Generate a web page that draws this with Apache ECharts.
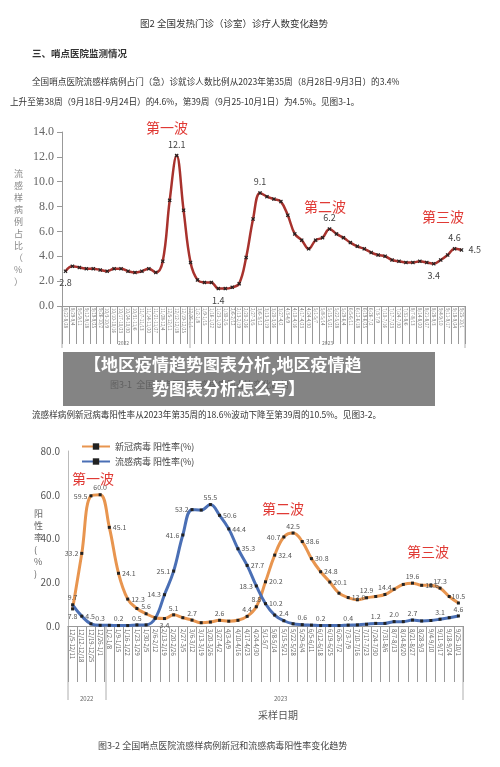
<!DOCTYPE html>
<html><head><meta charset="utf-8">
<script src="https://cdn.jsdelivr.net/npm/echarts@6/dist/echarts.min.js"></script>
<style>html,body{margin:0;padding:0;background:#fff}#c{width:500px;height:767px}</style>
</head><body><div id="c"></div>
<script>
var fluWeeks=["8/22-8/28","8/29-9/4","9/5-9/11","9/12-9/18","9/19-9/25","9/26-10/2","10/3-10/9","10/10-10/16","10/17-10/23","10/24-10/30","10/31-11/6","11/7-11/13","11/14-11/20","11/21-11/27","11/28-12/4","12/5-12/11","12/12-12/18","12/19-12/25","12/26-1/1",
"1/2-1/8","1/9-1/15","1/16-1/22","1/23-1/29","1/30-2/5","2/6-2/12","2/13-2/19","2/20-2/26","2/27-3/5","3/6-3/12","3/13-3/19","3/20-3/26","3/27-4/2","4/3-4/9","4/10-4/16","4/17-4/23","4/24-4/30","5/1-5/7","5/8-5/14","5/15-5/21","5/22-5/28","5/29-6/4","6/5-6/11","6/12-6/18","6/19-6/25","6/26-7/2","7/3-7/9","7/10-7/16","7/17-7/23","7/24-7/30","7/31-8/6","8/7-8/13","8/14-8/20","8/21-8/27","8/28-9/3","9/4-9/10","9/11-9/17","9/18-9/24","9/25-10/1"];
var fluPct=[2.8,3.2,3.1,3.0,3.0,2.9,2.8,3.0,3.0,2.8,2.7,2.8,3.0,2.7,3.6,8.5,12.1,7.7,3.5,
2.1,1.9,1.9,1.4,1.4,1.5,1.8,3.9,7.0,9.1,8.8,8.6,8.4,7.3,5.8,5.3,4.6,5.3,5.5,6.2,5.8,5.5,5.1,4.8,4.6,4.3,4.1,4.0,3.7,3.6,3.5,3.5,3.6,3.5,3.4,3.7,4.1,4.6,4.5];
var fluLabelIdx={0:'bottom',16:'top',22:'bottom',28:'top',38:'top',53:'bottom',56:'top',57:'right'};
var posWeeks=["12/5-12/11","12/12-12/18","12/19-12/25","12/26-1/1",
"1/2-1/8","1/9-1/15","1/16-1/22","1/23-1/29","1/30-2/5","2/6-2/12","2/13-2/19","2/20-2/26","2/27-3/5","3/6-3/12","3/13-3/19","3/20-3/26","3/27-4/2","4/3-4/9","4/10-4/16","4/17-4/23","4/24-4/30","5/1-5/7","5/8-5/14","5/15-5/21","5/22-5/28","5/29-6/4","6/5-6/11","6/12-6/18","6/19-6/25","6/26-7/2","7/3-7/9","7/10-7/16","7/17-7/23","7/24-7/30","7/31-8/6","8/7-8/13","8/14-8/20","8/21-8/27","8/28-9/3","9/4-9/10","9/11-9/17","9/18-9/24","9/25-10/1"];
var covidPos=[7.8,33.2,59.5,60.0,45.1,24.1,12.3,8.0,5.6,3.8,3.4,5.1,3.8,2.7,1.5,1.8,2.6,2.2,2.6,4.4,8.8,20.2,32.4,40.7,42.5,38.6,30.8,24.8,20.1,15.0,13.0,12.0,12.9,13.5,14.4,16.8,19.0,19.6,18.6,18.6,17.3,13.5,10.5];
var fluPos=[9.7,4.5,1.0,0.3,0.3,0.2,0.2,0.5,0.5,3.5,14.3,25.1,41.6,53.2,53.0,55.5,50.6,44.4,35.3,27.7,18.3,10.2,5.0,2.4,1.0,0.6,0.4,0.2,0.2,0.2,0.4,0.5,0.8,1.2,1.2,2.0,2.0,2.7,2.3,2.5,3.1,3.8,4.6];
var covidLabelIdx={0:'bottom',1:'left',2:'left',3:'top',4:'right',5:'right',6:'right',8:'top',10:'bottom',11:'top',13:'top',16:'top',19:'top',20:'top',21:'right',22:'right',23:'left',24:'top',25:'right',26:'right',27:'right',28:'right',30:'right',32:'top',34:'top',37:'top',38:'right',40:'top',42:'top'};
var fluPosLabelIdx={0:'top',1:'right',3:'top',5:'top',7:'top',10:'left',11:'left',12:'left',13:'left',15:'top',16:'right',17:'right',18:'right',19:'right',20:'left',21:'right',23:'top',25:'top',27:'top',30:'top',33:'top',35:'top',37:'top',40:'top',42:'top'};

var chart=echarts.init(document.getElementById('c'));
var X='path://M0,2L2,0L5,3L8,0L10,2L7,5L10,8L8,10L5,7L2,10L0,8L3,5Z';
function items(vals,map){return vals.map(function(v,i){var o={value:v};if(map[i]){o.label={position:map[i]};}return o;});}
var red='#e03a35';
function t(x,y,s,size,opt,z){return {type:'text',left:x,top:y,z:z||10,style:Object.assign({text:s,fontSize:size,fill:'#333',fontFamily:'Noto Sans CJK SC'},opt||{})};}
function line(x1,y1,x2,y2){return {type:'line',z:5,shape:{x1:x1,y1:y1,x2:x2,y2:y2},style:{stroke:'#999',lineWidth:0.8}};}
chart.setOption({
 animation:false,
 textStyle:{fontFamily:'Noto Sans CJK SC'},
 legend:{data:['新冠病毒 阳性率(%)','流感病毒 阳性率(%)'],orient:'vertical',left:76,top:437,itemGap:6,itemWidth:28,itemHeight:8,textStyle:{fontSize:9,color:'#444'}},
 grid:[{left:62,right:35,top:132,bottom:461},{left:68,right:37,top:451,bottom:141}],
 xAxis:[{type:'category',gridIndex:0,data:fluWeeks,axisTick:{show:true,length:38,lineStyle:{color:'#999'}},axisLine:{lineStyle:{color:'#999'}},axisLabel:{rotate:-90,fontSize:4.5,color:'#777',interval:0,margin:2}},
        {type:'category',gridIndex:1,data:posWeeks,axisTick:{show:true,length:56,lineStyle:{color:'#999'}},axisLine:{lineStyle:{color:'#999'}},axisLabel:{rotate:-90,fontSize:6,color:'#666',interval:0,margin:3}}],
 yAxis:[{type:'value',gridIndex:0,min:0,max:14,interval:2,splitLine:{show:false},axisLine:{show:true,lineStyle:{color:'#999'}},axisTick:{show:true,lineStyle:{color:'#999'}},axisLabel:{fontFamily:'Liberation Serif',fontSize:12,color:'#666',formatter:function(v){return v.toFixed(1);}}},
        {type:'value',gridIndex:1,min:0,max:80,interval:20,splitLine:{show:false},axisLine:{show:true,lineStyle:{color:'#bbb'}},axisLabel:{fontSize:10,color:'#555',formatter:function(v){return v.toFixed(1);}}}],
 series:[
  {type:'line',xAxisIndex:0,yAxisIndex:0,data:items(fluPct,fluLabelIdx),smooth:0.4,symbol:X,symbolSize:4,itemStyle:{color:'#222'},lineStyle:{color:'#a8322d',width:2.5},label:{show:true,fontSize:9,color:'#444',formatter:function(p){return fluLabelIdx[p.dataIndex]?p.value.toFixed(1):'';}}},
  {name:'新冠病毒 阳性率(%)',type:'line',xAxisIndex:1,yAxisIndex:1,data:items(covidPos,covidLabelIdx),smooth:0.4,symbol:'rect',symbolSize:3,itemStyle:{color:'#222'},lineStyle:{color:'#e8954f',width:3},label:{show:true,fontSize:7,color:'#555',distance:2,formatter:function(p){return covidLabelIdx[p.dataIndex]?p.value.toFixed(1):'';}}},
  {name:'流感病毒 阳性率(%)',type:'line',xAxisIndex:1,yAxisIndex:1,data:items(fluPos,fluPosLabelIdx),smooth:0.4,symbol:'rect',symbolSize:3,itemStyle:{color:'#222'},lineStyle:{color:'#4a6fb5',width:3},label:{show:true,fontSize:7,color:'#555',distance:2,formatter:function(p){return fluPosLabelIdx[p.dataIndex]?p.value.toFixed(1):'';}}}
 ],
 graphic:[
  t(140,19,'图2 全国发热门诊（诊室）诊疗人数变化趋势',9.5),
  t(32,49,'三、哨点医院监测情况',9.5,{fontWeight:'bold'}),
  t(32,77,'全国哨点医院流感样病例占门（急）诊就诊人数比例从2023年第35周（8月28日-9月3日）的3.4%',8.6),
  t(10,97,'上升至第38周（9月18日-9月24日）的4.6%，第39周（9月25-10月1日）为4.5%。见图3-1。',8.6),
  t(146,121,'第一波',14,{fill:red}),
  t(304,200,'第二波',14,{fill:red}),
  t(422,210,'第三波',14,{fill:red}),
  t(14,168,'流\n感\n样\n病\n例\n占\n比\n（\n%\n）',9,{fill:'#888',lineHeight:12}),
  line(62,306,62,348),line(190,306,190,348),line(465,306,465,348),
  t(118,341,'2022',5,{fill:'#777'}),t(322,341,'2023',5,{fill:'#777'}),
  t(110,380,'图3-1  全国哨点医院流感样病例占比变化趋势',9,{fill:'#333'}),
  {type:'rect',z:20,shape:{x:63,y:352,width:372,height:54},style:{fill:'rgba(105,105,105,0.82)'}},
  t(84,356,'【地区疫情趋势图表分析,地区疫情趋',17,{fill:'#fff',fontWeight:'bold'},30),
  t(152,380,'势图表分析怎么写】',17,{fill:'#fff',fontWeight:'bold'},30),
  t(32,410,'流感样病例新冠病毒阳性率从2023年第35周的18.6%波动下降至第39周的10.5%。见图3-2。',8.6),
  t(72,472,'第一波',14,{fill:red}),
  t(262,502,'第二波',14,{fill:red}),
  t(407,545,'第三波',14,{fill:red}),
  t(34,508,'阳\n性\n率\n(\n%\n)',9,{fill:'#666',lineHeight:12}),
  line(68,626,68,700),line(106,626,106,700),line(463,626,463,700),
  t(80,696,'2022',6,{fill:'#666'}),t(274,696,'2023',6,{fill:'#666'}),
  t(258,710,'采样日期',10,{fill:'#555'}),
  t(98,741,'图3-2 全国哨点医院流感样病例新冠和流感病毒阳性率变化趋势',9,{fill:'#444'})
 ]
});
</script></body></html>
